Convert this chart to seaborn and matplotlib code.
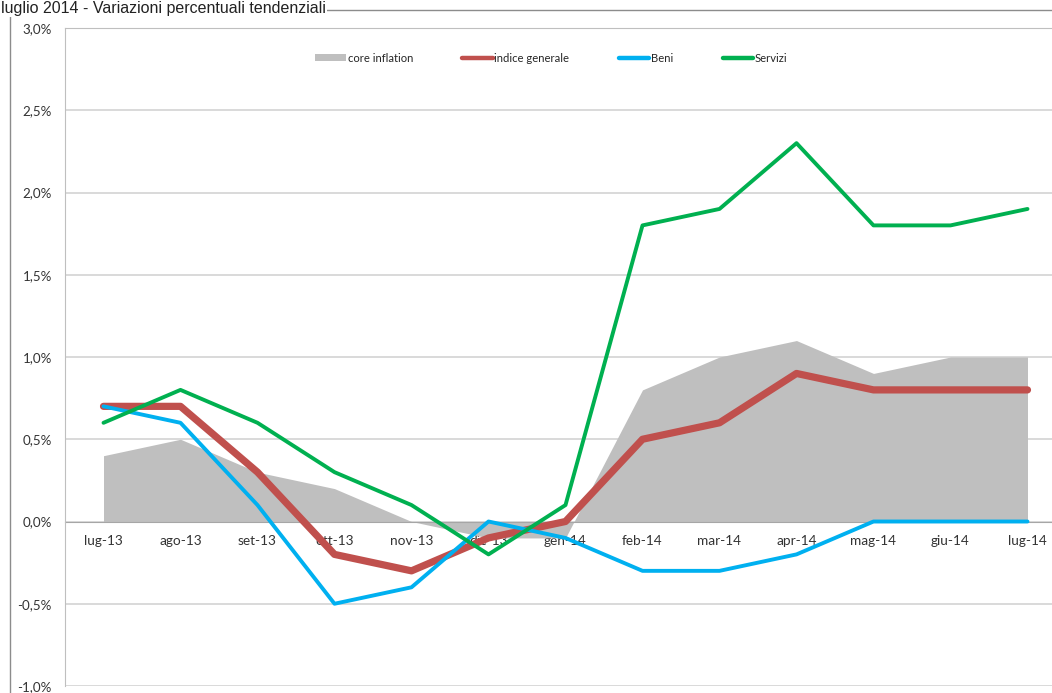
import numpy as np
import pandas as pd
import seaborn as sns
import matplotlib.pyplot as plt
from matplotlib.patches import Patch, Rectangle
from matplotlib.ticker import FuncFormatter, MultipleLocator

# months on the x axis
mesi = ["lug-13", "ago-13", "set-13", "ott-13", "nov-13", "dic-13", "gen-14",
        "feb-14", "mar-14", "apr-14", "mag-14", "giu-14", "lug-14"]

# percent values
core_inflation = [0.4, 0.5, 0.3, 0.2, 0.0, -0.1, -0.1, 0.8, 1.0, 1.1, 0.9, 1.0, 1.0]
indice_generale = [0.7, 0.7, 0.3, -0.2, -0.3, -0.1, 0.0, 0.5, 0.6, 0.9, 0.8, 0.8, 0.8]
beni = [0.7, 0.6, 0.1, -0.5, -0.4, 0.0, -0.1, -0.3, -0.3, -0.2, 0.0, 0.0, 0.0]
servizi = [0.6, 0.8, 0.6, 0.3, 0.1, -0.2, 0.1, 1.8, 1.9, 2.3, 1.8, 1.8, 1.9]

sns.set_style("white")
plt.rcParams["font.family"] = ["Lato", "DejaVu Sans"]

df = pd.DataFrame({"pos": np.arange(len(mesi)), "mese": mesi,
                   "core": core_inflation, "indice": indice_generale,
                   "beni": beni, "servizi": servizi})

W, H = 1052, 693
fig = plt.figure(figsize=(W / 100, H / 100), dpi=100)
# plot area runs past the right edge, as in the original
ax = fig.add_axes([65 / W, 7 / H, 1001 / W, 658 / H])

grigio = "#BFBFBF"
rosso = "#C0504D"
blu = "#00B0F0"
verde = "#00B050"

# core inflation as a grey area from zero
ax.fill_between(df["pos"], 0, df["core"], color=grigio, linewidth=0, zorder=1)

sns.lineplot(data=df, x="pos", y="indice", color=rosso, linewidth=5.2,
             solid_capstyle="round", ax=ax, zorder=3)
sns.lineplot(data=df, x="pos", y="beni", color=blu, linewidth=2.8, ax=ax, zorder=4)
sns.lineplot(data=df, x="pos", y="servizi", color=verde, linewidth=2.8, ax=ax, zorder=5)

ax.set_xlim(-0.5, len(mesi) - 0.5)
ax.set_ylim(-1.0, 3.0)
ax.yaxis.set_major_locator(MultipleLocator(0.5))
ax.yaxis.set_major_formatter(FuncFormatter(lambda v, p: f"{v:.1f}%".replace(".", ",")))
ax.grid(axis="y", color="#D0D0D0", linewidth=1.1, zorder=0)
ax.set_axisbelow(True)

ax.set_xticks(df["pos"])
ax.set_xticklabels(mesi)
ax.set_xticks(np.arange(len(mesi) + 1) - 0.5, minor=True)
ax.tick_params(axis="x", which="major", length=0, pad=10, labelsize=9.8, colors="#333333")
ax.tick_params(axis="x", which="minor", length=5, width=1, color="#A6A6A6", direction="out")
ax.tick_params(axis="y", length=0, pad=9.5, labelsize=9.6, colors="#333333")

# category axis sits on zero
ax.spines["bottom"].set_position(("data", 0))
ax.spines["bottom"].set_color("#A6A6A6")
ax.spines["bottom"].set_zorder(2)
for s in ["left", "top", "right"]:
    ax.spines[s].set_color("#BFBFBF")
ax.set_xlabel("")
ax.set_ylabel("")

handles = [Patch(facecolor=grigio, edgecolor="none"),
           plt.Line2D([], [], color=rosso, linewidth=3.2, solid_capstyle="round"),
           plt.Line2D([], [], color=blu, linewidth=3.2, solid_capstyle="round"),
           plt.Line2D([], [], color=verde, linewidth=3.2, solid_capstyle="round")]
labels = ["core inflation", "indice generale", "Beni", "Servizi"]
ax.legend(handles, labels, ncol=4, loc="center", bbox_to_anchor=(0.486, 0.954),
          frameon=False, fontsize=8.1, handlelength=2.7, handleheight=0.6,
          handletextpad=0.15, columnspacing=4.4)

# outer chart frame
fig.patches.append(Rectangle((10 / W, -0.01), 1.1, 1 - 10 / H + 0.01,
                             transform=fig.transFigure, fill=False,
                             edgecolor="#8C8C8C", linewidth=1, zorder=0))

fig.text(1 / W, 1 - 1 / H, "luglio 2014 - Variazioni percentuali tendenziali",
         ha="left", va="top", fontsize=11.5, family="Liberation Sans", color="#222222",
         zorder=5, bbox=dict(facecolor="white", edgecolor="none", pad=0.5))

fig.savefig("out.png", dpi=100)
